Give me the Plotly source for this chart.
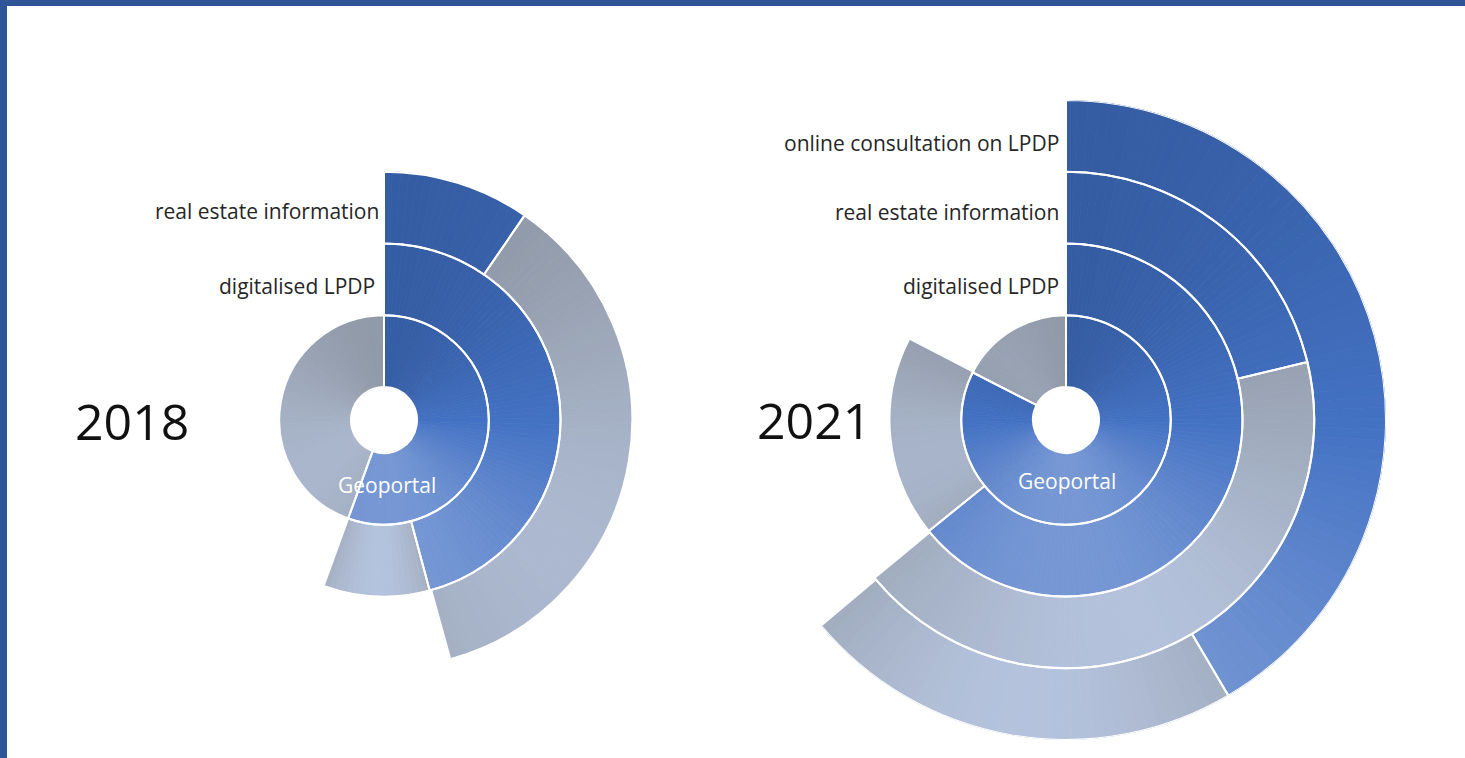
import math
import plotly.graph_objects as go

# ---------------- data ----------------
rings_2018 = ["Geoportal", "digitalised LPDP", "real estate information"]
blue_2018 = [200, 165, 34.5]      # angular sweep (degrees) of the blue part
grey_2018 = [160, 35, 130]        # angular sweep (degrees) of the grey part

rings_2021 = ["Geoportal", "digitalised LPDP", "real estate information",
              "online consultation on LPDP"]
blue_2021 = [297, 231, 76.5, 149.5]
grey_2021 = [63, 66.5, 154, 80.5]

years = ["2018", "2021"]

# ---------------- styles ----------------
HOLE = 0.46          # inner hole radius in ring units
W, H = 1465, 758
R_PX = 320           # pixel radius of the radial axis range
CENTERS = [(384, 420), (1066, 420)]
STEP = 2.0           # degrees per shading slice

BLUE_STOPS = ["#2F5597", "#4472C4", "#8EA9DB"]
GREY_STOPS = ["#8A929F", "#A2ADC0", "#B6C5E0"]


def hex2rgb(h):
    h = h.lstrip("#")
    return [int(h[i:i + 2], 16) for i in (0, 2, 4)]


def mix(stops, t):
    t = max(0.0, min(1.0, t))
    a, b, u = (stops[0], stops[1], t / 0.5) if t <= 0.5 else (stops[1], stops[2], (t - 0.5) / 0.5)
    ca, cb = hex2rgb(a), hex2rgb(b)
    c = [round(ca[i] + (cb[i] - ca[i]) * u) for i in range(3)]
    return "rgb(%d,%d,%d)" % tuple(c)


def shade_blue(theta, u):
    base = 0.14 + 0.70 * (1 - math.cos(math.radians(theta))) / 2
    return mix(BLUE_STOPS, base)


def shade_grey(theta, u):
    base = 0.2 + 0.75 * (1 - math.cos(math.radians(theta))) / 2
    edge = 0.6 + 0.4 * math.sin(math.pi * u)
    return mix(GREY_STOPS, base * edge)


fig = go.Figure()
datasets = [(rings_2018, blue_2018, grey_2018), (rings_2021, blue_2021, grey_2021)]

for k, (yr, (rings, blue, grey)) in enumerate(zip(years, datasets)):
    polar_id = "polar" if k == 0 else "polar2"
    n = len(rings)
    # shaded fills (thin angular slices of each segment)
    th, wd, bs, cols, names = [], [], [], [], []
    for i in range(n):
        for start, sweep, shader in ((0, blue[i], shade_blue),
                                     (blue[i], grey[i], shade_grey)):
            m = max(1, int(math.ceil(sweep / STEP)))
            w = sweep / m
            for j in range(m):
                c = start + (j + 0.5) * w
                th.append(c)
                wd.append(w)
                bs.append(HOLE + i)
                cols.append(shader(c, (j + 0.5) / m))
                names.append(rings[i])
    fig.add_trace(go.Barpolar(
        r=[1] * len(th), base=bs, theta=th, width=wd, text=names,
        marker=dict(color=cols, line=dict(color=cols, width=0.8)),
        showlegend=False, hoverinfo="text", subplot=polar_id,
    ))
    # white outlines of each blue / grey segment
    fig.add_trace(go.Barpolar(
        r=[1] * (2 * n),
        base=[HOLE + i for i in range(n)] * 2,
        theta=[b / 2 for b in blue] + [b + g / 2 for b, g in zip(blue, grey)],
        width=list(blue) + list(grey),
        marker=dict(color="rgba(0,0,0,0)", line=dict(color="white", width=2)),
        showlegend=False, hoverinfo="skip", subplot=polar_id,
    ))


def domain(cx, cy):
    return dict(x=[(cx - R_PX) / W, (cx + R_PX) / W],
                y=[(H - cy - R_PX) / H, (H - cy + R_PX) / H])


polar_common = dict(
    bgcolor="rgba(0,0,0,0)",
    radialaxis=dict(visible=False, range=[0, HOLE + 4]),
    angularaxis=dict(visible=False, rotation=90, direction="clockwise"),
)
fig.update_layout(
    polar=dict(domain=domain(*CENTERS[0]), **polar_common),
    polar2=dict(domain=domain(*CENTERS[1]), **polar_common),
)

FONT = "Open Sans"
ann = []


def px_ann(x, y, text, size, color="#262626", xanchor="right"):
    ann.append(dict(x=x / W, y=1 - y / H, xref="paper", yref="paper",
                    text=text, showarrow=False, xanchor=xanchor, yanchor="middle",
                    font=dict(family=FONT, size=size, color=color)))


# ring labels
px_ann(381, 211, rings_2018[2], 21)
px_ann(377, 286, rings_2018[1], 21)
px_ann(1061, 143, rings_2021[3], 21)
px_ann(1061, 212, rings_2021[2], 21)
px_ann(1061, 286, rings_2021[1], 21)
# Geoportal labels
px_ann(387, 485, rings_2018[0], 21, color="white", xanchor="center")
px_ann(1067, 481, rings_2021[0], 21, color="white", xanchor="center")
# year labels
px_ann(132, 421, years[0], 50, color="#111111", xanchor="center")
px_ann(814, 420, years[1], 50, color="#111111", xanchor="center")

fig.update_layout(
    width=W, height=H,
    margin=dict(l=0, r=0, t=0, b=0),
    paper_bgcolor="white",
    plot_bgcolor="white",
    annotations=ann,
    shapes=[
        dict(type="rect", xref="paper", yref="paper", x0=0, x1=1,
             y0=1 - 6 / H, y1=1, fillcolor="#2E5597", line=dict(width=0)),
        dict(type="rect", xref="paper", yref="paper", x0=0, x1=7 / W,
             y0=0, y1=1, fillcolor="#2E5597", line=dict(width=0)),
    ],
)

fig.write_html("out.html", config={"displayModeBar": False},
               post_script="document.body.style.margin='0';document.body.style.overflow='hidden';")
